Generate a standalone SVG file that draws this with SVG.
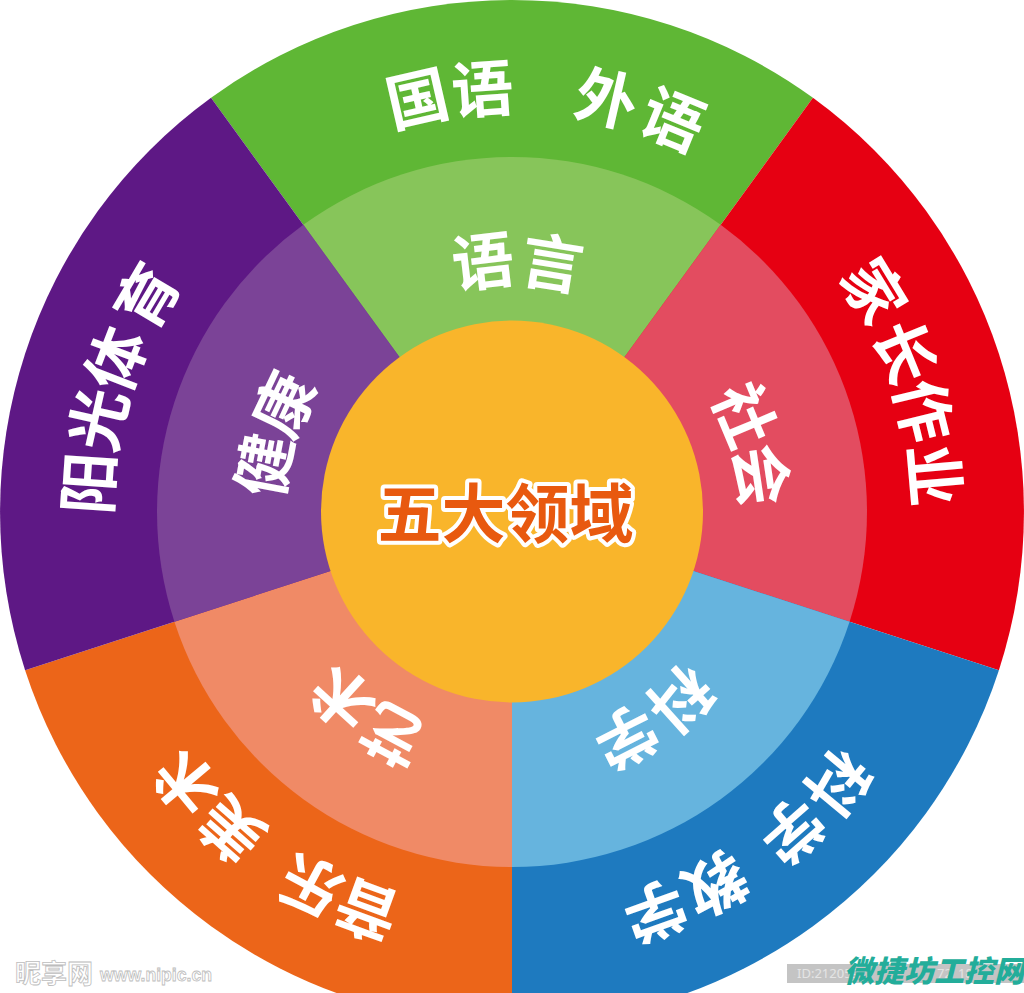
<svg xmlns="http://www.w3.org/2000/svg" width="1024" height="993" viewBox="0 0 1024 993">
<style>
.t{font-family:"Noto Sans CJK SC","Noto Sans",sans-serif;font-weight:700;font-size:62px;fill:#fff;text-anchor:middle}
.c{font-size:64px;fill:#E8590F;stroke:#fff;stroke-width:8px;stroke-linejoin:round;paint-order:stroke}
.w{font-weight:700;fill:#fff;stroke:#bdbdbd;stroke-width:.8px}
.id{font-family:"Noto Sans",sans-serif;font-size:13px;fill:#E4E4E4}
</style>
<rect width="1024" height="993" fill="#fff"/>
<g id="language">
<path d="M512 512L211.05 97.8A512 512 0 0 1 812.95 97.8Z" fill="#5FB735"/>
<path d="M512 512L303.3 224.8A355 355 0 0 1 720.7 224.8Z" fill="#87C55A"/>
<g class="t">
<text transform="rotate(-12.9 512 512)" x="512" y="111">国</text>
<text transform="rotate(-4 512 512)" x="512" y="111">语</text>
<text transform="rotate(12.9 512 512)" x="512" y="111">外</text>
<text transform="rotate(22.3 512 512)" x="512" y="111">语</text>
<text transform="rotate(-6.6 512 512)" x="512" y="283">语</text>
<text transform="rotate(9.2 512 512)" x="512" y="283">言</text>
</g>
</g>
<g id="society">
<path d="M512 512L812.95 97.8A512 512 0 0 1 998.9 670.2Z" fill="#E60012"/>
<path d="M512 512L720.7 224.8A355 355 0 0 1 849.6 621.7Z" fill="#E34C60"/>
<g class="t">
<text transform="rotate(58.6 512 512)" x="512" y="111">家</text>
<text transform="rotate(67.8 512 512)" x="512" y="111">长</text>
<text transform="rotate(76.2 512 512)" x="512" y="111">作</text>
<text transform="rotate(85 512 512)" x="512" y="111">业</text>
<text transform="rotate(67.3 512 512)" x="512" y="283">社</text>
<text transform="rotate(81.6 512 512)" x="512" y="283">会</text>
</g>
</g>
<g id="science">
<path d="M512 512L998.9 670.2A512 512 0 0 1 512 1024Z" fill="#1E7ABF"/>
<path d="M512 512L849.6 621.7A355 355 0 0 1 512 867Z" fill="#66B4DE"/>
<g class="t">
<text transform="rotate(129.8 512 512)" x="512" y="111">科</text>
<text transform="rotate(138.7 512 512)" x="512" y="111">学</text>
<text transform="rotate(151.4 512 512)" x="512" y="111">教</text>
<text transform="rotate(160.3 512 512)" x="512" y="111">学</text>
<text transform="rotate(138 512 512)" x="512" y="283">科</text>
<text transform="rotate(153.1 512 512)" x="512" y="283">学</text>
</g>
</g>
<g id="art">
<path d="M512 512L512 1024A512 512 0 0 1 25.1 670.2Z" fill="#EC6519"/>
<path d="M512 512L512 867A355 355 0 0 1 174.4 621.7Z" fill="#F08A66"/>
<g class="t">
<text transform="rotate(200 512 512)" x="512" y="111">音</text>
<text transform="rotate(208.3 512 512)" x="512" y="111">乐</text>
<text transform="rotate(221.4 512 512)" x="512" y="111">美</text>
<text transform="rotate(230.2 512 512)" x="512" y="111">术</text>
<text transform="rotate(208 512 512)" x="512" y="283">艺</text>
<text transform="rotate(222.2 512 512)" x="512" y="283">术</text>
</g>
</g>
<g id="health">
<path d="M512 512L25.1 670.2A512 512 0 0 1 211.05 97.8Z" fill="#5E1885"/>
<path d="M512 512L174.4 621.7A355 355 0 0 1 303.3 224.8Z" fill="#7B4397"/>
<g class="t">
<text transform="rotate(-86.1 512 512)" x="512" y="111">阳</text>
<text transform="rotate(-77.4 512 512)" x="512" y="111">光</text>
<text transform="rotate(-68.9 512 512)" x="512" y="111">体</text>
<text transform="rotate(-59.4 512 512)" x="512" y="111">育</text>
<text transform="rotate(-79.3 512 512)" x="512" y="283">健</text>
<text transform="rotate(-64.7 512 512)" x="512" y="283">康</text>
</g>
</g>
<g id="center">
<circle cx="512" cy="511.5" r="191" fill="#F9B52B"/>
<text class="t c" x="505.500" y="537">五大领域</text>
</g>
<g id="watermarks">
<text class="w" x="15" y="983" font-size="26" font-family="Noto Sans CJK SC,sans-serif">昵享网</text>
<text class="w" x="100" y="981" font-size="18" font-family="Liberation Sans,sans-serif" textLength="112" lengthAdjust="spacingAndGlyphs">www.nipic.cn</text>
<rect x="787" y="964" width="237" height="19" fill="#C4C4C4"/>
<text class="id" x="797" y="978">ID:212059</text>
<text class="id" x="937" y="978">72</text>
<text class="id" x="958" y="978">18</text>
<text x="844" y="982" font-family="Noto Sans CJK SC,sans-serif" font-weight="900" font-style="italic" font-size="30" fill="#23AD9A">微捷坊工控网</text>
</g>
</svg>
